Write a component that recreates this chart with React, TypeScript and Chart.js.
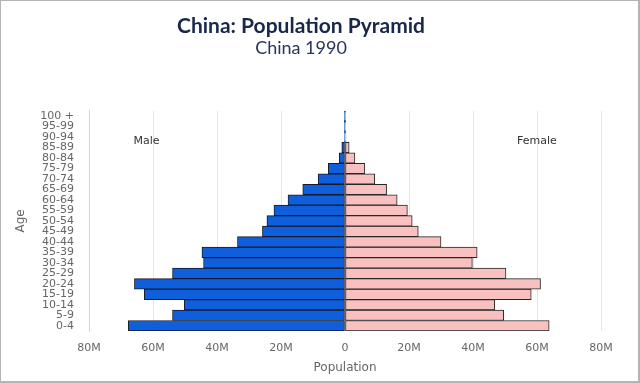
import React, { useEffect, useRef } from "react";
import { Chart, registerables } from "chart.js";

Chart.register(...registerables);

// Age groups, bottom (youngest) to top (oldest)
const ageGroups = [
  "0-4", "5-9", "10-14", "15-19", "20-24", "25-29", "30-34", "35-39",
  "40-44", "45-49", "50-54", "55-59", "60-64", "65-69", "70-74", "75-79",
  "80-84", "85-89", "90-94", "95-99", "100 +",
];

// Population in millions
const maleMillions = [
  67.7, 53.9, 50.2, 62.7, 65.8, 53.9, 44.2, 44.7,
  33.6, 25.8, 24.4, 22.2, 17.8, 13.2, 8.4, 5.2,
  1.8, 1.0, 0.2, 0.03, 0.005,
];
const femaleMillions = [
  63.8, 49.6, 46.8, 58.2, 61.1, 50.3, 39.8, 41.3,
  30.0, 22.9, 21.0, 19.5, 16.3, 13.0, 9.3, 6.2,
  3.1, 1.3, 0.3, 0.06, 0.01,
];

const xTicks = [-80, -60, -40, -20, 0, 20, 40, 60, 80];

const titleText = "China: Population Pyramid";
const subtitleText = "China 1990";

const sideLabels = [
  { text: "Male", value: -62, row: "90-94" },
  { text: "Female", value: 60, row: "90-94" },
];

const sideLabelPlugin = {
  id: "sideLabels",
  afterDatasetsDraw(chart: any) {
    const { ctx, scales } = chart;
    ctx.save();
    ctx.font = "11px 'DejaVu Sans'";
    ctx.fillStyle = "#333333";
    ctx.textAlign = "center";
    ctx.textBaseline = "middle";
    for (const l of sideLabels) {
      const x = scales.x.getPixelForValue(l.value * 1e6);
      const y = scales.y.getPixelForValue(ageGroups.indexOf(l.row)) + 4;
      ctx.fillText(l.text, x, y);
    }
    ctx.restore();
  },
};

export default function App() {
  const ref = useRef<HTMLCanvasElement | null>(null);

  useEffect(() => {
    document.body.style.margin = "0";
    if (!ref.current) return;
    const chart = new Chart(ref.current, {
      type: "bar",
      data: {
        labels: ageGroups,
        datasets: [
          {
            label: "Male",
            data: maleMillions.map((v) => -v * 1e6),
            backgroundColor: "#0f5fdc",
            borderColor: "#151a2c",
            borderWidth: 1,
            borderSkipped: false,
            barPercentage: 1,
            categoryPercentage: 1,
          },
          {
            label: "Female",
            data: femaleMillions.map((v) => v * 1e6),
            backgroundColor: "#f9c0c0",
            borderColor: "#262626",
            borderWidth: 1,
            borderSkipped: false,
            barPercentage: 1,
            categoryPercentage: 1,
          },
        ],
      },
      options: {
        indexAxis: "y",
        animation: false,
        responsive: false,
        maintainAspectRatio: false,
        layout: { padding: { left: 0, right: 37, top: 0, bottom: 0 } },
        plugins: {
          legend: { display: false },
          tooltip: { enabled: false },
          title: {
            display: true,
            text: titleText,
            color: "#18274a",
            font: { family: "Lato", size: 21, weight: "bold", lineHeight: 1.15 },
            padding: { top: 13, bottom: 0 },
          },
          subtitle: {
            display: true,
            text: subtitleText,
            color: "#27375a",
            font: { family: "Lato", size: 18, weight: "normal", lineHeight: 1.15 },
            padding: { top: 0, bottom: 52 },
          },
        },
        scales: {
          x: {
            type: "linear",
            stacked: true,
            min: -80e6,
            max: 80e6,
            afterBuildTicks: (scale: any) => {
              scale.ticks = xTicks.map((v) => ({ value: v * 1e6 }));
            },
            afterFit: (scale: any) => {
              scale.height = 50;
            },
            ticks: {
              color: "#666666",
              font: { family: "DejaVu Sans", size: 11 },
              padding: 11,
              maxRotation: 0,
              callback: (v: any) => {
                const n = Math.abs(Number(v)) / 1e6;
                return n === 0 ? "0" : n + "M";
              },
            },
            grid: { color: "#e6e6e6", drawTicks: false },
            border: { display: false },
            title: {
              display: true,
              text: "Population",
              color: "#666666",
              font: { family: "DejaVu Sans", size: 12 },
              padding: { top: 0, bottom: 6 },
            },
          },
          y: {
            type: "category",
            stacked: true,
            reverse: true,
            afterFit: (scale: any) => {
              scale.width = 88;
            },
            ticks: {
              autoSkip: false,
              color: "#666666",
              font: { family: "DejaVu Sans", size: 11, lineHeight: 1 },
              padding: 15,
            },
            grid: { display: false, drawTicks: false },
            border: { display: true, color: "#ccd6eb", width: 1 },
            title: {
              display: true,
              text: "Age",
              color: "#666666",
              font: { family: "DejaVu Sans", size: 12 },
              padding: { top: 13, bottom: 0 },
            },
          },
        },
      },
      plugins: [sideLabelPlugin],
    });
    return () => chart.destroy();
  }, []);

  return (
    <div
      style={{
        width: 640,
        height: 383,
        boxSizing: "border-box",
        borderStyle: "solid",
        borderColor: "#b4b4b4",
        borderWidth: "1px 2px 2px 1px",
        background: "#ffffff",
        overflow: "hidden",
      }}
    >
      <canvas ref={ref} width={637} height={380} style={{ display: "block" }} />
    </div>
  );
}
